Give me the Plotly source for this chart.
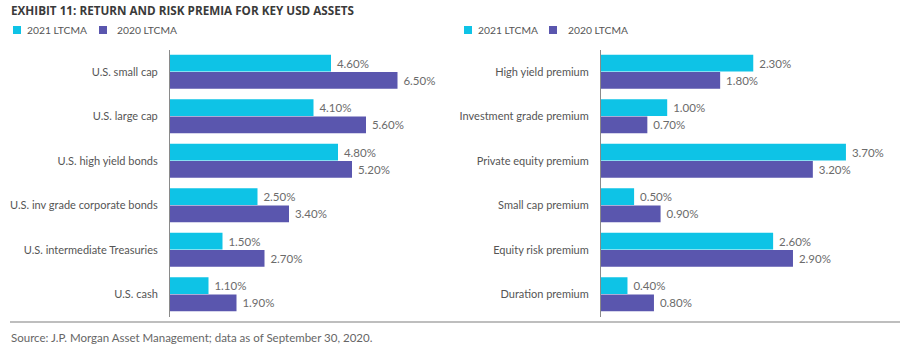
import plotly.graph_objects as go

W, H = 902, 352

left_categories = ["U.S. small cap", "U.S. large cap", "U.S. high yield bonds",
                   "U.S. inv grade corporate bonds", "U.S. intermediate Treasuries", "U.S. cash"]
left_2021 = [4.6, 4.1, 4.8, 2.5, 1.5, 1.1]
left_2020 = [6.5, 5.6, 5.2, 3.4, 2.7, 1.9]

right_categories = ["High yield premium", "Investment grade premium", "Private equity premium",
                    "Small cap premium", "Equity risk premium", "Duration premium"]
right_2021 = [2.3, 1.0, 3.7, 0.5, 2.6, 0.4]
right_2020 = [1.8, 0.7, 3.2, 0.9, 2.9, 0.8]

series_names = ["2021 LTCMA", "2020 LTCMA"]
C21 = "#0EC3E6"
C20 = "#5A56AE"
colors = [C21, C20]

FONT = "Lato"
TXT = "#6b6b6b"

def px_x(p):
    return p / W

def px_y(p):
    return 1 - p / H

fig = go.Figure()

def add(cats, vals, name, color, xa, ya):
    fig.add_trace(go.Bar(
        y=cats, x=vals, name=name, orientation="h",
        marker=dict(color=color, line=dict(width=0)),
        text=[f"\u00a0{v:.2f}%" for v in vals],
        textposition="outside", cliponaxis=False, constraintext="none",
        textfont=dict(family=FONT, size=11.5, color=TXT),
        xaxis=xa, yaxis=ya, showlegend=False, hoverinfo="skip",
    ))

add(left_categories, left_2021, series_names[0], C21, "x", "y")
add(left_categories, left_2020, series_names[1], C20, "x", "y")
add(right_categories, right_2021, series_names[0], C21, "x2", "y2")
add(right_categories, right_2020, series_names[1], C20, "x2", "y2")

ydom = [px_y(316.5), px_y(49.5)]
axis_common = dict(showgrid=False, zeroline=False, showticklabels=False, fixedrange=True)
ycommon = dict(autorange="reversed", showline=True, linecolor="#8a8a8a", linewidth=1,
               ticks="", tickfont=dict(family=FONT, size=11, color="#555555"),
               ticklabelstandoff=9, domain=ydom)

fig.update_layout(
    width=W, height=H, margin=dict(l=0, r=0, t=0, b=0),
    paper_bgcolor="white", plot_bgcolor="white",
    barmode="group", bargap=0.23, bargroupgap=0.03,
    font=dict(family=FONT, color="#555555"),
    xaxis=dict(domain=[px_x(170), px_x(440)], range=[0, 270 / 35.0], anchor="y", **axis_common),
    yaxis=dict(anchor="x", **ycommon),
    xaxis2=dict(domain=[px_x(601), px_x(895)], range=[0, 294 / 66.2], anchor="y2", **axis_common),
    yaxis2=dict(anchor="x2", **ycommon),
    showlegend=False,
)

# legends (one above each panel)
for lx, sx2, tx2 in [(13, 99, 115), (464, 549, 566)]:
    for i, (sx, tx) in enumerate([(lx, lx + 12), (sx2, tx2)]):
        fig.add_shape(type="rect", xref="paper", yref="paper",
                      x0=px_x(sx), x1=px_x(sx + 8), y0=px_y(34), y1=px_y(26),
                      fillcolor=colors[i], line=dict(width=0))
        fig.add_annotation(text=series_names[i], xref="paper", yref="paper",
                           x=px_x(tx), y=px_y(30), xanchor="left", yanchor="middle",
                           showarrow=False,
                           font=dict(family=FONT, size=10.3, color="#555555"))

fig.add_annotation(text="<b>EXHIBIT 11: RETURN AND RISK PREMIA FOR KEY USD ASSETS</b>",
                   xref="paper", yref="paper", x=px_x(9), y=px_y(10),
                   xanchor="left", yanchor="middle", showarrow=False,
                   font=dict(family="Open Sans", size=11.7, color="#3a3a3a"))

fig.add_shape(type="line", xref="paper", yref="paper",
              x0=px_x(10), x1=px_x(900), y0=px_y(322), y1=px_y(322),
              line=dict(color="#a8a8a8", width=1.5))

fig.add_annotation(text="Source: J.P. Morgan Asset Management; data as of September 30, 2020.",
                   xref="paper", yref="paper", x=px_x(9), y=px_y(337),
                   xanchor="left", yanchor="middle", showarrow=False,
                   font=dict(family=FONT, size=11.5, color="#666666"))

fig.write_html("out.html")
